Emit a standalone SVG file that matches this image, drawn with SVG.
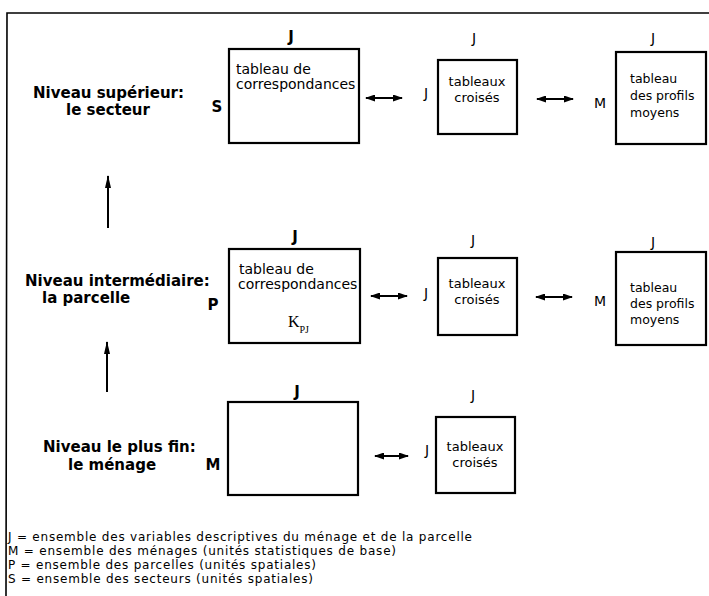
<svg xmlns="http://www.w3.org/2000/svg" width="709" height="596" viewBox="0 0 709 596">
<defs>
<style>
.box{fill:#fff;stroke:#000;stroke-width:2.2}
.t{font-family:"DejaVu Sans","Liberation Sans",Arial,sans-serif;fill:#000}
.title{font-size:15px;font-weight:bold}
.lb{font-size:15px;font-weight:bold}
.l{font-size:14px}
.bx14{font-size:14px}
.bx13{font-size:13px}
.bx12{font-size:12.5px}
.leg{font-family:"DejaVu Sans","Liberation Sans",Arial,sans-serif;font-size:12px;fill:#000}
.conn{stroke:#000;stroke-width:2;fill:none}
.frame{stroke:#000;stroke-width:1.6;fill:none}
</style>
<marker id="ah" markerUnits="userSpaceOnUse" markerWidth="10" markerHeight="7" refX="9" refY="3.5" orient="auto-start-reverse">
<path d="M0,0 L10,3.5 L0,7 z" fill="#000"/>
</marker>
<marker id="ahv" markerUnits="userSpaceOnUse" markerWidth="13" markerHeight="7" refX="12" refY="3.5" orient="auto">
<path d="M0,0.5 L13,3.5 L0,6.5 z" fill="#000"/>
</marker>
</defs>
<rect width="709" height="596" fill="#fff"/>
<path class="frame" d="M709,13 L7,13 L6,596"/>

<g id="titre-secteur" class="t title">
<text x="33" y="98">Niveau supérieur:</text>
<text x="66" y="115">le secteur</text>
</g>
<g id="titre-parcelle" class="t title">
<text x="25" y="286">Niveau intermédiaire:</text>
<text x="42" y="303">la parcelle</text>
</g>
<g id="titre-menage" class="t title">
<text x="43" y="452">Niveau le plus fin:</text>
<text x="68" y="470">le ménage</text>
</g>

<g id="corr-secteur">
<rect class="box" x="229" y="49" width="130" height="94"/>
<text class="t lb" x="291" y="42" text-anchor="middle">J</text>
<text class="t lb" x="217" y="112" text-anchor="middle">S</text>
<text class="t bx14" x="236" y="74">tableau de</text>
<text class="t bx14" x="236" y="89">correspondances</text>
</g>
<g id="croises-secteur">
<rect class="box" x="438" y="60" width="79" height="74"/>
<text class="t l" x="474" y="43" text-anchor="middle">J</text>
<text class="t l" x="426" y="98" text-anchor="middle">J</text>
<text class="t bx13" x="477" y="86" text-anchor="middle">tableaux</text>
<text class="t bx13" x="477" y="102" text-anchor="middle">croisés</text>
</g>
<g id="profils-secteur">
<rect class="box" x="616" y="52" width="90" height="92"/>
<text class="t l" x="653" y="43" text-anchor="middle">J</text>
<text class="t l" x="600" y="108" text-anchor="middle">M</text>
<text class="t bx12" x="630" y="83">tableau</text>
<text class="t bx12" x="630" y="100">des profils</text>
<text class="t bx12" x="630" y="117">moyens</text>
</g>

<g id="corr-parcelle">
<rect class="box" x="229" y="249" width="131" height="94"/>
<text class="t lb" x="295" y="242" text-anchor="middle">J</text>
<text class="t lb" x="213" y="310" text-anchor="middle">P</text>
<text class="t bx14" x="239" y="274">tableau de</text>
<text class="t bx14" x="238" y="289">correspondances</text>
<text x="288" y="327" style="font-family:'Liberation Serif','Times New Roman',serif;font-size:16px;fill:#000">K<tspan dy="6" font-size="10">PJ</tspan></text>
</g>
<g id="croises-parcelle">
<rect class="box" x="438" y="258" width="79" height="77"/>
<text class="t l" x="473" y="245" text-anchor="middle">J</text>
<text class="t l" x="426" y="298" text-anchor="middle">J</text>
<text class="t bx13" x="477" y="288" text-anchor="middle">tableaux</text>
<text class="t bx13" x="477" y="304" text-anchor="middle">croisés</text>
</g>
<g id="profils-parcelle">
<rect class="box" x="616" y="252" width="90" height="93"/>
<text class="t l" x="653" y="247" text-anchor="middle">J</text>
<text class="t l" x="600" y="306" text-anchor="middle">M</text>
<text class="t bx12" x="630" y="292">tableau</text>
<text class="t bx12" x="630" y="308">des profils</text>
<text class="t bx12" x="630" y="324">moyens</text>
</g>

<g id="menage">
<rect class="box" x="228" y="402" width="130" height="93"/>
<text class="t lb" x="297" y="397" text-anchor="middle">J</text>
<text class="t lb" x="213" y="470" text-anchor="middle">M</text>
</g>
<g id="croises-menage">
<rect class="box" x="436" y="417" width="79" height="76"/>
<text class="t l" x="473" y="400" text-anchor="middle">J</text>
<text class="t l" x="427" y="455" text-anchor="middle">J</text>
<text class="t bx13" x="475" y="451" text-anchor="middle">tableaux</text>
<text class="t bx13" x="475" y="467" text-anchor="middle">croisés</text>
</g>

<g id="connecteurs">
<line class="conn" x1="366" y1="98" x2="402" y2="98" marker-start="url(#ah)" marker-end="url(#ah)"/>
<line class="conn" x1="537" y1="99" x2="573" y2="99" marker-start="url(#ah)" marker-end="url(#ah)"/>
<line class="conn" x1="371" y1="296" x2="407" y2="296" marker-start="url(#ah)" marker-end="url(#ah)"/>
<line class="conn" x1="536" y1="297" x2="572" y2="297" marker-start="url(#ah)" marker-end="url(#ah)"/>
<line class="conn" x1="375" y1="456" x2="408" y2="456" marker-start="url(#ah)" marker-end="url(#ah)"/>
<line class="conn" x1="108" y1="228" x2="108" y2="176" marker-end="url(#ahv)"/>
<line class="conn" x1="107" y1="392" x2="107" y2="342" marker-end="url(#ahv)"/>
</g>

<g id="legende" class="leg">
<text x="8" y="541" textLength="464" lengthAdjust="spacing">J = ensemble des variables descriptives du ménage et de la parcelle</text>
<text x="8" y="555" textLength="388" lengthAdjust="spacing">M = ensemble des ménages (unités statistiques de base)</text>
<text x="8" y="569" textLength="308" lengthAdjust="spacing">P = ensemble des parcelles (unités spatiales)</text>
<text x="8" y="583" textLength="305" lengthAdjust="spacing">S = ensemble des secteurs (unités spatiales)</text>
</g>
</svg>
